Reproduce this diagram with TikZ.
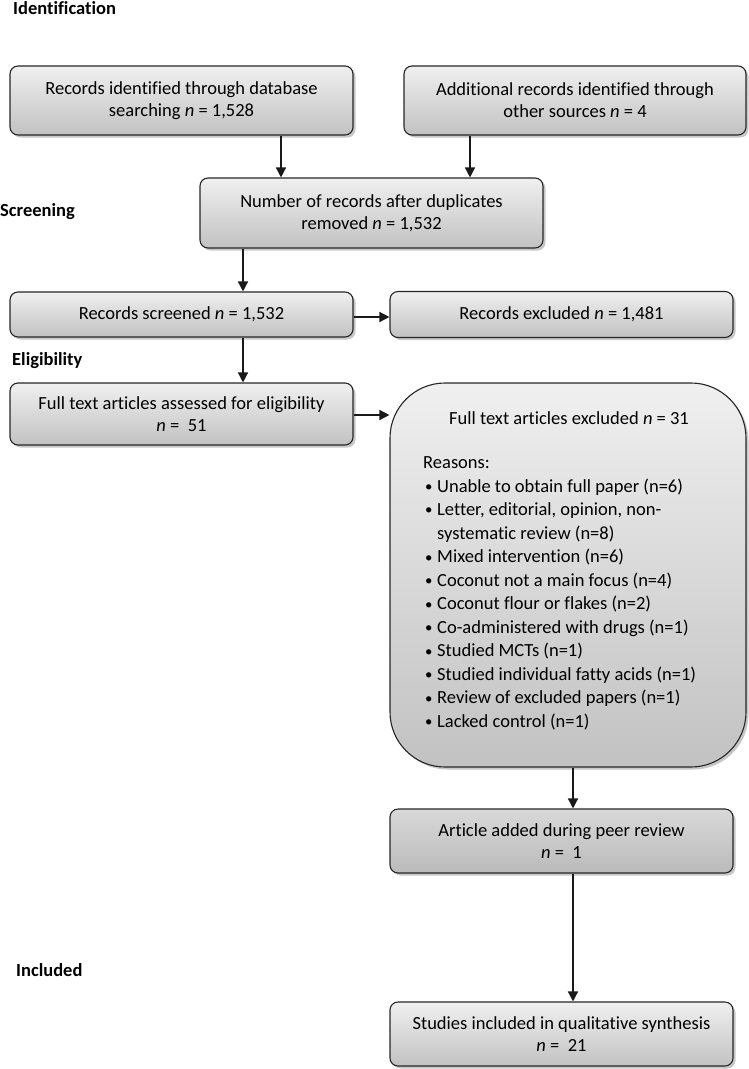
\documentclass[tikz,border=0pt]{standalone}
\usepackage{fontspec}
\usepackage{graphicx}
\setmainfont{Carlito}[Ligatures=NoCommon]
\usetikzlibrary{arrows.meta,shadows}
\newcommand{\bul}{\makebox[13pt][l]{\hspace{1pt}\raisebox{0.6pt}{\scalebox{0.8}{\textbullet}}}}
\begin{document}
\begin{tikzpicture}[x=1pt,y=-1pt,
  box/.style={draw=black!85, line width=1.1pt, rounded corners=8pt, inner sep=0pt,
    top color=black!6, bottom color=black!24, align=center,
    font=\fontsize{18.5}{22}\selectfont,
    drop shadow={shadow xshift=2.5pt, shadow yshift=-2.5pt, fill=black, opacity=0.22}},
  darkbox/.style={box, top color=black!15, bottom color=black!27},
  arr/.style={line width=1.4pt, draw=black!90, -{Triangle[length=10pt,width=10pt]}},
  sect/.style={font=\fontsize{18.5}{22}\selectfont\bfseries, anchor=west, inner sep=0pt},
  item/.style={font=\fontsize{18.5}{22}\selectfont, anchor=base west, inner sep=0pt}]
\useasboundingbox (0,0) rectangle (748,1069);

% section labels
\node[sect] (lid) at (13,8) {Identification};
\node[sect] (lscr) at (0,212) {Screening};
\node[sect] (lel) at (12,361) {Eligibility};
\node[sect] (linc) at (16,970) {Included};

% boxes
\node[box, minimum width=343pt, minimum height=69pt] (A) at (181.5,100.5)
  {Records identified through database\\ searching \textit{n} = 1,528};
\node[box, minimum width=342pt, minimum height=69pt] (B) at (575,100.5)
  {Additional records identified through\\ other sources \textit{n} = 4};
\node[box, minimum width=343pt, minimum height=70pt] (C) at (371.5,213)
  {Number of records after duplicates\\ removed \textit{n} = 1,532};
\node[box, minimum width=343pt, minimum height=45pt] (D) at (181.5,314.5)
  {Records screened \textit{n} = 1,532};
\node[box, minimum width=343pt, minimum height=46pt] (E) at (561.5,314.5)
  {Records excluded \textit{n} = 1,481};
\node[box, minimum width=343pt, minimum height=62pt] (F) at (181.5,414)
  {Full text articles assessed for eligibility\\ \textit{n} = \ 51};
\node[box, rounded corners=55pt, minimum width=356pt, minimum height=384pt] (G) at (568,575) {};
\node[darkbox, minimum width=343pt, minimum height=64pt] (H) at (561.5,841)
  {Article added during peer review\\ \textit{n} = \ 1};
\node[box, minimum width=343pt, minimum height=64pt] (I) at (561.5,1034)
  {Studies included in qualitative synthesis\\ \textit{n} = \ 21};

% text of the excluded box
\node[font=\fontsize{18.5}{22}\selectfont, inner sep=0pt] (Gt) at (569,418)
  {Full text articles excluded \textit{n} = 31};
\node[item] (r0) at (423,468) {Reasons:};
\foreach \t [count=\i from 0] in {
  {\bul Unable to obtain full paper (n=6)},
  {\bul Letter, editorial, opinion, non-},
  {\makebox[13pt][l]{}systematic review (n=8)},
  {\bul Mixed intervention (n=6)},
  {\bul Coconut not a main focus (n=4)},
  {\bul Coconut flour or flakes (n=2)},
  {\bul Co-administered with drugs (n=1)},
  {\bul Studied MCTs (n=1)},
  {\bul Studied individual fatty acids (n=1)},
  {\bul Review of excluded papers (n=1)},
  {\bul Lacked control (n=1)}}
  \node[item] (r\i) at (424,492+23.55*\i) {\t};

% connectors
\coordinate (x1) at (281,0);
\coordinate (x2) at (470,0);
\coordinate (x3) at (243,0);
\coordinate (x4) at (573,0);
\coordinate (yE) at (0,317);
\coordinate (yG) at (0,415);
\draw[arr] (A.south -| x1) -- (C.north -| x1);
\draw[arr] (B.south -| x2) -- (C.north -| x2);
\draw[arr] (C.south -| x3) -- (D.north -| x3);
\draw[arr] (D.south -| x3) -- (F.north -| x3);
\draw[arr] (D.east |- yE) -- (E.west |- yE);
\draw[arr] (F.east |- yG) -- (G.west |- yG);
\draw[arr] (G.south -| x4) -- (H.north -| x4);
\draw[arr] (H.south -| x4) -- (I.north -| x4);
\end{tikzpicture}
\end{document}
